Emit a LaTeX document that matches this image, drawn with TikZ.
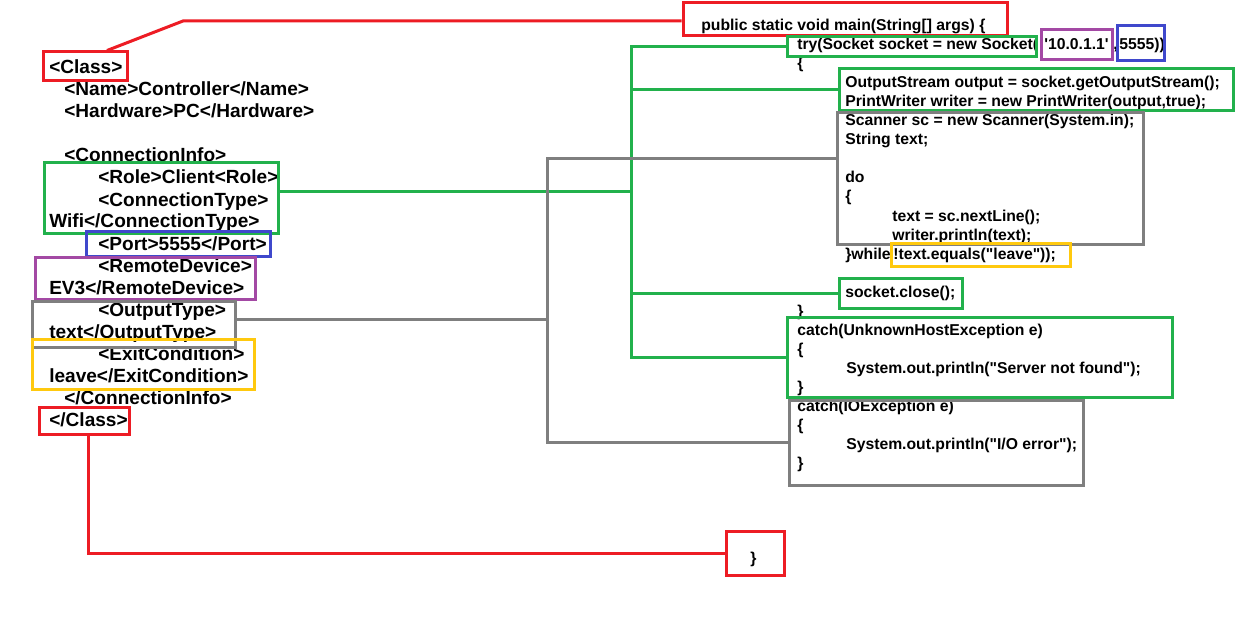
\documentclass[tikz,border=0pt]{standalone}
\usepackage{fontspec}
\setmainfont{Liberation Sans}
\definecolor{cred}{RGB}{237,28,36}
\definecolor{cgreen}{RGB}{34,177,76}
\definecolor{cblue}{RGB}{63,72,204}
\definecolor{cpurple}{RGB}{163,73,164}
\definecolor{cgray}{RGB}{127,127,127}
\definecolor{cyellow}{RGB}{255,201,14}
\begin{document}
\begin{tikzpicture}[x=0.75pt,y=-0.75pt]
	
	\tikzset{
		xmltext/.style={font=\bfseries\fontsize{14.3}{17}\selectfont,inner sep=0pt,anchor=base west},
		codetext/.style={font=\bfseries\fontsize{11.8}{14}\selectfont,inner sep=0pt,anchor=base west},
		hibox/.style={draw=#1,line width=2.25pt,inner sep=0pt},
		link/.style={draw=#1,line width=2.25pt},
	}
	
	% Macro: one line of text, anchored at its baseline
	% Arguments: name, x, baseline y, text
	\newcommand{\XmlLine}[4]{\node[xmltext] (#1) at (#2,#3) {#4};}
	\newcommand{\CodeLine}[4]{\node[codetext] (#1) at (#2,#3) {#4};}
	
	% Macro: coloured frame between two corners
	% Arguments: name, x1, y1, x2, y2, colour
	\newcommand{\HiBox}[6]{%
		\node[hibox=#6,minimum width={(#4-#2)*0.75pt},minimum height={(#5-#3)*0.75pt}]
			(#1) at ({(#2+#4)/2},{(#3+#5)/2}) {};
	}
	
	\useasboundingbox (0,0) rectangle (1260,624);
	
	%========================================
	% Left: XML description
	%========================================
	\XmlLine{xClass}{49}{74}{<Class>}
	\XmlLine{xName}{64}{96}{<Name>Controller</Name>}
	\XmlLine{xHw}{64}{118}{<Hardware>PC</Hardware>}
	\XmlLine{xConnInfo}{64}{162}{<ConnectionInfo>}
	\XmlLine{xRole}{98}{184}{<Role>Client<Role>}
	\XmlLine{xConnType}{98}{206}{<ConnectionType>}
	\XmlLine{xWifi}{49}{228}{Wifi</ConnectionType>}
	\XmlLine{xPort}{98}{250}{<Port>5555</Port>}
	\XmlLine{xRemote}{98}{272}{<RemoteDevice>}
	\XmlLine{xEv}{49}{294}{EV3</RemoteDevice>}
	\XmlLine{xOutType}{98}{316}{<OutputType>}
	\XmlLine{xText}{49}{338}{text</OutputType>}
	\XmlLine{xExit}{98}{360}{<ExitCondition>}
	\XmlLine{xLeave}{49}{382}{leave</ExitCondition>}
	\XmlLine{xConnEnd}{64}{404}{</ConnectionInfo>}
	\XmlLine{xClassEnd}{49}{426}{</Class>}
	
	% Frames round the XML parts
	\HiBox{bClass}{43}{52}{127}{81}{cred}
	\HiBox{bConn}{44}{163}{278}{233}{cgreen}
	\HiBox{bPort}{86}{231}{270}{256}{cblue}
	\HiBox{bRemote}{35}{257}{255}{299}{cpurple}
	\HiBox{bOutType}{32}{301}{235}{347}{cgray}
	\HiBox{bExit}{32}{339}{254}{389}{cyellow}
	\HiBox{bClassEnd}{39}{407}{129}{434}{cred}
	
	%========================================
	% Right: Java code
	%========================================
	\CodeLine{cMain}{701}{31}{public static void main(String[] args) \{}
	\CodeLine{cTry}{797}{50}{try(Socket socket = new Socket(}
	\CodeLine{cIp}{1044}{50}{\textquotesingle 10.0.1.1\textquotesingle}
	\CodeLine{cComma}{1113}{50}{,}
	\CodeLine{cPortNum}{1119}{50}{5555))}
	\CodeLine{cBrOpen}{797}{69}{\{}
	\CodeLine{cOut}{845}{88}{OutputStream output = socket.getOutputStream();}
	\CodeLine{cWriter}{845}{107}{PrintWriter writer = new PrintWriter(output,true);}
	\CodeLine{cScan}{845}{126}{Scanner sc = new Scanner(System.in);}
	\CodeLine{cStr}{845}{145}{String text;}
	\CodeLine{cDo}{845}{183}{do}
	\CodeLine{cBrDo}{845}{202}{\{}
	\CodeLine{cRead}{892}{221}{text = sc.nextLine();}
	\CodeLine{cPrint}{892}{240}{writer.println(text);}
	\CodeLine{cWhile}{845}{259}{\}while}
	\CodeLine{cCond}{893}{259}{!text.equals(\textquotedbl leave\textquotedbl));}
	\CodeLine{cClose}{845}{297}{socket.close();}
	\CodeLine{cBrTry}{797}{316}{\}}
	\CodeLine{cCatchA}{797}{335}{catch(UnknownHostException e)}
	\CodeLine{cBrA}{797}{354}{\{}
	\CodeLine{cMsgA}{846}{373}{System.out.println(\textquotedbl Server not found\textquotedbl);}
	\CodeLine{cBrAEnd}{797}{392}{\}}
	\CodeLine{cCatchB}{797}{411}{catch(IOException e)}
	\CodeLine{cBrB}{797}{430}{\{}
	\CodeLine{cMsgB}{846}{449}{System.out.println(\textquotedbl I/O error\textquotedbl);}
	\CodeLine{cBrBEnd}{797}{468}{\}}
	\CodeLine{cEnd}{750}{563}{\}}
	
	% Frames round the code parts
	\HiBox{bMain}{683}{3}{1007}{36}{cred}
	\HiBox{bTry}{787}{37}{1036}{57}{cgreen}
	\HiBox{bIp}{1041}{30}{1112}{60}{cpurple}
	\HiBox{bPortNum}{1117}{26}{1164}{61}{cblue}
	\HiBox{bOut}{839}{69}{1233}{111}{cgreen}
	\HiBox{bScan}{837}{113}{1143}{244}{cgray}
	\HiBox{bCond}{891}{243}{1070}{266}{cyellow}
	\HiBox{bClose}{839}{278}{962}{308}{cgreen}
	\HiBox{bCatchA}{787}{317}{1172}{397}{cgreen}
	\HiBox{bCatchB}{789}{400}{1083}{485}{cgray}
	\HiBox{bEnd}{726}{531}{784}{575}{cred}
	
	%========================================
	% Connectors
	%========================================
	\coordinate (gbus) at (631,192);
	\coordinate (ybus) at (547,319);
	\coordinate (rbend) at (183,21);
	
	% connection info -> socket code
	\draw[link=cgreen] (bConn.east |- gbus) -- (gbus);
	\draw[link=cgreen] (bTry.west) -| (gbus |- bCatchA.west) -- (bCatchA.west);
	\draw[link=cgreen] (bOut.west) -- (gbus |- bOut.west);
	\draw[link=cgreen] (bClose.west) -- (gbus |- bClose.west);
	
	% output type -> console and IO error
	\draw[link=cgray] (bOutType.east |- ybus) -- (ybus);
	\draw[link=cgray] ([yshift=15pt]bScan.west) -| (ybus |- bCatchB.west) -- (bCatchB.west);
	
	% class start and end -> main braces
	\draw[link=cred] ([xshift=16.5pt]bClass.north) -- (rbend) -- (rbend -| bMain.west);
	\draw[link=cred] ([xshift=3pt]bClassEnd.south) |- (bEnd.west);
	
\end{tikzpicture}
\end{document}
